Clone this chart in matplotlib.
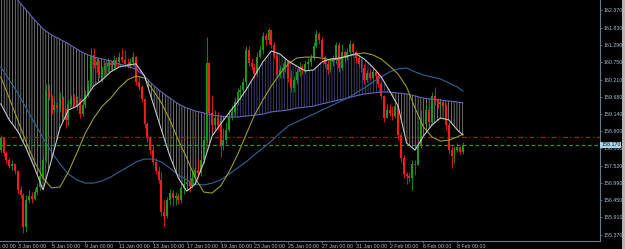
import numpy as np
import matplotlib.pyplot as plt
from matplotlib.patches import Rectangle
from matplotlib.transforms import blended_transform_factory

plt.rcParams['font.family'] = ['Liberation Sans Narrow', 'Liberation Sans', 'DejaVu Sans']
plt.rcParams['hatch.linewidth'] = 0.5

# H4 candles, bar 0 = 3 Jan 00:00, first visible bar is -6
first_bar = -6
first_open = 158.01
close = [
    158.39, 157.92, 157.70, 157.51, 157.58, 157.36,
    156.77, 156.61, 155.61, 156.45, 156.58, 156.48, 156.70, 156.86, 157.20, 157.70,
    159.88, 159.67, 159.26, 159.42, 159.32, 159.63, 159.17, 158.95, 159.45, 159.63,
    159.48, 159.54, 159.13, 159.42, 159.76, 160.04, 160.98, 160.66, 160.76, 160.35,
    160.51, 160.63, 160.74, 160.66, 160.82, 160.76, 160.91, 160.82, 160.69, 160.63,
    160.76, 160.91, 160.13, 159.98, 159.60, 158.82, 158.39, 158.01, 157.64, 157.36,
    157.08, 156.08, 155.95, 156.45, 156.67, 156.51, 156.58, 156.45, 156.83, 156.95,
    157.01, 156.89, 157.14, 157.39, 157.30, 157.70, 158.32, 160.74, 159.17, 158.79,
    159.01, 158.79, 158.17, 158.32, 158.64, 159.04, 159.20, 159.51, 159.82, 159.88,
    160.13, 161.13, 160.74, 160.60, 160.38, 160.91, 161.13, 161.57, 161.44, 161.76,
    161.29, 160.94, 160.38, 160.51, 160.57, 160.76, 160.26, 159.95, 160.20, 160.45,
    160.60, 160.51, 160.69, 160.76, 160.88, 161.26, 161.63, 161.44, 160.91, 160.69,
    160.51, 160.76, 160.82, 161.29, 160.57, 161.07, 160.88, 161.07, 161.32, 161.07,
    160.88, 160.69, 160.57, 160.20, 160.41, 160.26, 160.45, 160.32, 160.07, 159.70,
    159.01, 159.26, 159.17, 159.07, 159.38, 158.48, 157.76, 157.26, 157.20, 157.14,
    157.58, 157.54, 158.14, 159.01, 158.82, 159.26, 158.89, 159.70, 159.51, 159.45,
    159.51, 159.38, 158.79, 158.01, 157.82, 158.01, 158.11, 157.95, 158.17,
]
high = [
    158.48, 158.42, 157.98, 157.76, 157.70, 157.61,
    157.39, 156.89, 156.67, 156.61, 156.77, 156.70, 156.83, 156.98, 157.39, 157.86,
    160.07, 160.07, 159.73, 159.57, 159.51, 159.82, 159.70, 159.32, 159.57, 159.73,
    159.76, 159.70, 159.63, 159.57, 159.88, 160.20, 161.19, 161.19, 160.88, 160.82,
    160.63, 160.76, 160.88, 160.82, 160.98, 160.91, 161.07, 161.19, 161.13, 160.88,
    160.88, 161.07, 160.94, 160.32, 160.04, 159.63, 158.89, 158.45, 158.14, 157.76,
    157.51, 157.33, 156.45, 156.55, 156.80, 156.77, 156.70, 156.67, 156.98, 157.14,
    157.14, 157.08, 157.39, 157.54, 157.76, 157.95, 158.48, 161.54, 160.76, 159.73,
    159.26, 159.20, 159.10, 158.70, 158.89, 159.26, 159.42, 159.67, 159.95, 160.04,
    160.26, 161.26, 161.26, 160.88, 160.74, 161.07, 161.29, 161.69, 161.66, 161.82,
    161.76, 161.38, 161.07, 160.66, 160.74, 160.88, 160.82, 160.51, 160.32, 160.57,
    160.76, 160.69, 160.82, 160.88, 161.01, 161.38, 161.76, 161.69, 161.54, 160.98,
    160.82, 160.88, 160.98, 161.38, 161.38, 161.32, 161.13, 161.19, 161.44, 161.38,
    161.13, 161.01, 160.88, 160.69, 160.51, 160.51, 160.57, 160.51, 160.45, 160.13,
    159.73, 159.45, 159.45, 159.38, 159.57, 159.42, 158.57, 157.86, 157.33, 157.33,
    157.70, 157.70, 158.23, 159.26, 159.32, 159.42, 159.32, 159.82, 159.98, 159.63,
    159.63, 159.57, 159.45, 158.89, 158.14, 158.14, 158.23, 158.14, 158.26,
]
low = [
    157.95, 157.82, 157.61, 157.45, 157.39, 157.26,
    156.64, 156.51, 155.42, 155.45, 156.36, 156.36, 156.45, 156.61, 156.77, 157.14,
    157.64, 159.57, 159.13, 159.20, 159.20, 159.20, 159.01, 158.70, 158.79, 159.38,
    159.38, 159.26, 159.01, 159.07, 159.32, 159.67, 159.98, 160.57, 160.45, 160.26,
    160.13, 160.35, 160.45, 160.51, 160.57, 160.63, 160.66, 160.76, 160.60, 160.57,
    160.57, 160.63, 160.04, 159.88, 159.51, 158.70, 158.26, 157.89, 157.54, 157.26,
    156.98, 155.95, 155.64, 155.89, 156.30, 156.27, 156.30, 156.33, 156.36, 156.64,
    156.77, 156.70, 156.83, 156.95, 157.14, 157.20, 157.61, 158.26, 159.01, 158.64,
    158.70, 158.64, 157.79, 158.01, 158.20, 158.57, 158.95, 159.07, 159.42, 159.57,
    159.73, 159.88, 160.63, 160.51, 160.26, 160.32, 160.88, 161.01, 161.29, 161.32,
    161.19, 160.88, 160.29, 160.26, 160.26, 160.45, 160.13, 159.82, 159.82, 160.07,
    160.32, 160.38, 160.41, 160.51, 160.63, 160.82, 161.19, 161.32, 160.82, 160.57,
    160.38, 160.45, 160.63, 160.69, 160.45, 160.51, 160.74, 160.82, 160.94, 160.94,
    160.74, 160.60, 160.45, 160.07, 160.13, 160.20, 160.13, 160.20, 159.98, 159.60,
    158.89, 159.01, 159.07, 158.95, 159.01, 158.32, 157.64, 157.14, 156.95, 157.01,
    156.77, 157.23, 157.54, 158.07, 158.70, 158.76, 158.76, 158.82, 159.42, 159.32,
    159.32, 159.26, 158.64, 157.89, 157.45, 157.61, 157.95, 157.89, 157.89,
]

# indicator lines every 3 bars
ma_bars = [-6, -3, 0, 3, 6, 9, 12, 15, 18, 21, 24, 27, 30, 33, 36, 39, 42, 45, 48, 51,
           54, 57, 60, 63, 66, 69, 72, 75, 78, 81, 84, 87, 90, 93, 96, 99, 102, 105, 108,
           111, 114, 117, 120, 123, 126, 129, 132, 135, 138, 141, 144, 147, 150, 153, 156, 158]
ma_fast = [159.45, 158.95, 158.60, 158.07, 157.45, 156.77, 157.70, 158.70, 159.26, 159.38,
           159.63, 160.01, 160.20, 160.45, 160.60, 160.66, 160.70, 160.32, 159.48, 158.64,
           157.82, 157.14, 156.73, 156.95, 157.61, 158.45, 158.82, 159.17, 159.51, 159.88,
           160.32, 160.76, 161.10, 161.01, 160.79, 160.63, 160.48, 160.51, 160.76, 160.85,
           160.88, 160.94, 161.01, 160.85, 160.60, 160.29, 159.85, 159.38, 158.23, 158.01,
           158.45, 158.79, 159.01, 158.95, 158.64, 158.48]
ma_mid = [160.29, 159.63, 158.95, 158.26, 157.64, 157.14, 156.83, 156.86, 157.33, 157.92,
          158.54, 159.01, 159.38, 159.63, 159.95, 160.20, 160.32, 160.26, 159.88, 159.48,
          158.95, 158.32, 157.76, 157.14, 156.70, 156.67, 156.89, 157.33, 157.86, 158.48,
          159.10, 159.57, 160.01, 160.38, 160.70, 160.88, 160.91, 160.91, 160.88, 160.82,
          160.85, 160.94, 161.01, 161.04, 160.98, 160.85, 160.63, 160.38, 159.98, 159.32,
          158.73, 158.42, 158.29, 158.32, 158.42, 158.51]
ma_long = [160.60, 160.20, 159.79, 159.32, 158.85, 158.39, 157.95, 157.58, 157.26, 157.08,
           156.98, 156.98, 157.05, 157.17, 157.33, 157.48, 157.64, 157.73, 157.73, 157.64,
           157.45, 157.23, 157.08, 156.95, 156.92, 156.98, 157.08, 157.26, 157.45, 157.64,
           157.86, 158.07, 158.29, 158.54, 158.76, 158.89, 159.01, 159.13, 159.26, 159.38,
           159.51, 159.63, 159.79, 159.95, 160.13, 160.29, 160.45, 160.54, 160.57, 160.45,
           160.35, 160.29, 160.23, 160.10, 159.98, 159.85]
ma_slow = [163.28, 162.97, 162.69, 162.38, 162.07, 161.79, 161.60, 161.47, 161.32, 161.16,
           161.01, 160.91, 160.85, 160.79, 160.70, 160.62, 160.53, 160.32, 160.04, 159.82,
           159.63, 159.45, 159.32, 159.23, 159.17, 159.10, 159.07, 159.04, 159.04, 159.07,
           159.10, 159.13, 159.20, 159.23, 159.26, 159.32, 159.35, 159.38, 159.45, 159.51,
           159.57, 159.63, 159.70, 159.76, 159.79, 159.82, 159.82, 159.79, 159.76, 159.70,
           159.63, 159.60, 159.57, 159.54, 159.51, 159.48]

ask_level = 158.42
bid_level = 158.17
bid_text = "158.170"

date_ticks = [0, 12, 24, 36, 48, 60, 72, 84, 96, 108, 120, 132, 144, 156]
date_labels = ["3 Jan 00:00", "5 Jan 00:00", "9 Jan 00:00", "11 Jan 00:00", "13 Jan 00:00",
               "17 Jan 00:00", "19 Jan 00:00", "23 Jan 00:00", "25 Jan 00:00", "27 Jan 00:00",
               "31 Jan 00:00", "2 Feb 00:00", "6 Feb 00:00", "8 Feb 00:00"]
hidden_tick, hidden_label = -12, "30 Dec 00:00"
price_ticks = [162.370, 161.830, 161.290, 160.750, 160.210, 159.680, 159.140,
               158.600, 158.060, 157.520, 156.990, 156.450, 155.910, 155.370]

txt = '#a9bccd'
axis_col = '#6a7a8a'
bull, bear = '#1a9a1a', '#ff1a1a'

fig = plt.figure(figsize=(6.25, 2.49), dpi=100, facecolor='black')
ax = fig.add_axes([0, 8 / 249, 600 / 625, 241 / 249], facecolor='black')

close = np.array(close)
high = np.array(high)
low = np.array(low)
bars = np.arange(first_bar, first_bar + len(close))
opn = np.r_[first_open, close[:-1]]
cols = np.where(close >= opn, bull, bear)

fast = np.array(ma_fast)
slow = np.array(ma_slow)
ax.fill_between(ma_bars, fast, slow, where=fast <= slow, interpolate=True,
                facecolor='none', edgecolor='#9a9a9a', hatch='|' * 6, lw=0, zorder=1)
ax.fill_between(ma_bars, fast, slow, where=fast >= slow, interpolate=True,
                facecolor='none', edgecolor='#50508c', hatch='|' * 6, lw=0, zorder=1)

ax.axhline(ask_level, color='#c80000', lw=0.9, ls=(0, (4, 2, 1, 2)), zorder=2)
ax.axhline(bid_level, color='#3a8a3a', lw=0.9, ls=(0, (3, 2)), zorder=2)

ax.vlines(bars, low, high, colors=cols, lw=0.6, zorder=3)
ax.bar(bars, np.maximum(np.abs(close - opn), 0.012), bottom=np.minimum(opn, close),
       width=0.7, color=cols, lw=0, zorder=3)

ax.plot(ma_bars, ma_slow, color='#6464b4', lw=0.8, zorder=4)
ax.plot(ma_bars, ma_long, color='#2f6496', lw=0.8, zorder=4)
ax.plot(ma_bars, ma_mid, color='#9a9a28', lw=0.8, zorder=4)
ax.plot(ma_bars, ma_fast, color='#c8c8c8', lw=0.8, zorder=4)

ax.set_xlim((0 - 17.7) / 2.818, (600 - 17.7) / 2.818)
ax.set_ylim(155.174, 162.691)

for s in ['top', 'left']:
    ax.spines[s].set_visible(False)
for s in ['right', 'bottom']:
    ax.spines[s].set_color(axis_col)
    ax.spines[s].set_linewidth(0.8)

ax.yaxis.tick_right()
ax.set_yticks(price_ticks)
ax.set_yticklabels([f"{p:.3f}" for p in price_ticks])
ax.set_xticks(date_ticks)
ax.set_xticklabels(date_labels)
for t in ax.get_xticklabels():
    t.set_horizontalalignment('left')
ax.tick_params(axis='both', colors=axis_col, labelcolor=txt, labelsize=3.8,
               length=1.5, width=0.6, pad=1)

# the label before 3 Jan is only partly on screen
trans = blended_transform_factory(ax.transData, ax.transAxes)
ax.text(hidden_tick, -0.012, hidden_label, transform=trans, ha='left', va='top',
        fontsize=3.8, color=txt, clip_on=False)

ax.text(1.002, bid_level, bid_text, transform=blended_transform_factory(ax.transAxes, ax.transData),
        ha='left', va='center', fontsize=3.8, color='#101010', zorder=10, clip_on=False,
        bbox=dict(boxstyle='square,pad=0.15', fc='#a8d8f0', ec='none'))

fig.patches.append(Rectangle((622 / 625, 0), 3 / 625, 1, transform=fig.transFigure,
                             fc='#b4b4b4', ec='none'))

fig.savefig('out.png', dpi=100, facecolor='black')
